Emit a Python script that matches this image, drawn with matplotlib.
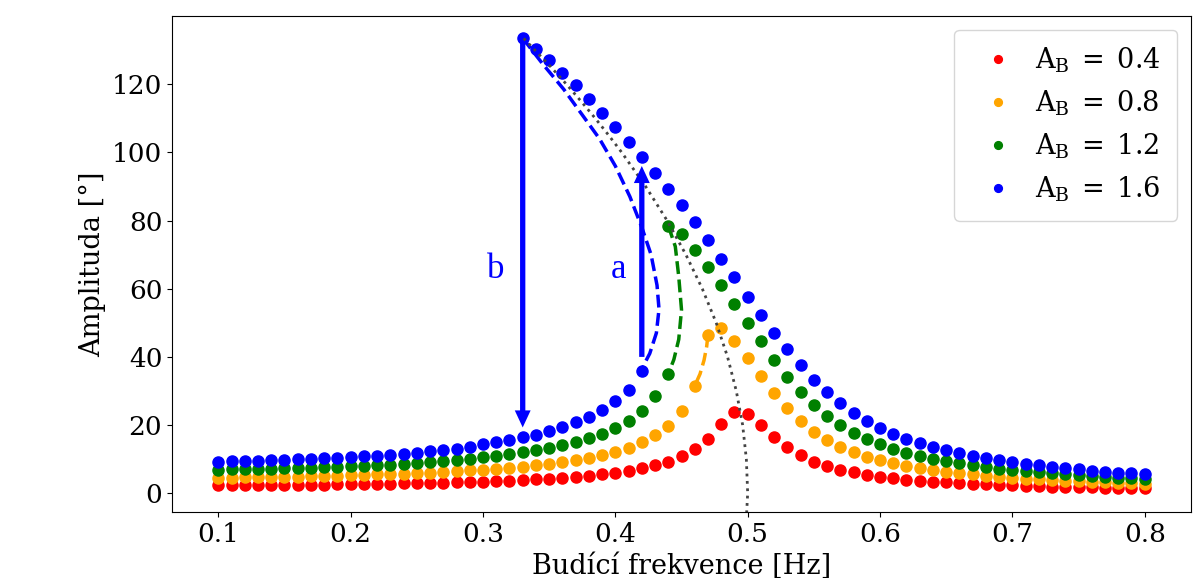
import matplotlib
matplotlib.use("Agg")
import matplotlib.pyplot as plt

plt.rcParams['font.family'] = 'DejaVu Serif'
plt.rcParams['mathtext.fontset'] = 'dejavuserif'

# budici frekvence [Hz], krok 0.01
freq = [0.10, 0.11, 0.12, 0.13, 0.14, 0.15, 0.16, 0.17, 0.18, 0.19,
        0.20, 0.21, 0.22, 0.23, 0.24, 0.25, 0.26, 0.27, 0.28, 0.29,
        0.30, 0.31, 0.32, 0.33, 0.34, 0.35, 0.36, 0.37, 0.38, 0.39,
        0.40, 0.41, 0.42, 0.43, 0.44, 0.45, 0.46, 0.47, 0.48, 0.49,
        0.50, 0.51, 0.52, 0.53, 0.54, 0.55, 0.56, 0.57, 0.58, 0.59,
        0.60, 0.61, 0.62, 0.63, 0.64, 0.65, 0.66, 0.67, 0.68, 0.69,
        0.70, 0.71, 0.72, 0.73, 0.74, 0.75, 0.76, 0.77, 0.78, 0.79, 0.80]

# A_B = 0.4
amp_red = [2.3, 2.3, 2.3, 2.4, 2.4, 2.4, 2.5, 2.5, 2.5, 2.6,
           2.6, 2.7, 2.7, 2.8, 2.9, 2.9, 3.0, 3.1, 3.2, 3.3,
           3.4, 3.6, 3.7, 3.9, 4.1, 4.3, 4.6, 4.8, 5.2, 5.6,
           6.0, 6.6, 7.3, 8.2, 9.3, 10.8, 13.0, 16.0, 20.2, 23.8,
           23.2, 20.1, 16.5, 13.5, 11.1, 9.3, 8.0, 6.9, 6.1, 5.4,
           4.9, 4.4, 4.0, 3.7, 3.4, 3.2, 2.9, 2.7, 2.6, 2.4,
           2.3, 2.2, 2.0, 1.9, 1.8, 1.8, 1.7, 1.6, 1.5, 1.5, 1.4]

# A_B = 0.8
amp_orange = [4.6, 4.6, 4.7, 4.7, 4.8, 4.9, 4.9, 5.0, 5.1, 5.2,
              5.3, 5.4, 5.5, 5.6, 5.7, 5.9, 6.0, 6.2, 6.4, 6.7,
              6.9, 7.2, 7.5, 7.8, 8.2, 8.6, 9.1, 9.7, 10.4, 11.2,
              12.2, 13.4, 15.0, 17.0, 19.8, 24.2, 31.5, 46.5, 48.5, 44.6,
              39.6, 34.5, 29.5, 24.9, 21.1, 18.0, 15.6, 13.6, 12.0, 10.7,
              9.7, 8.8, 8.0, 7.4, 6.8, 6.3, 5.9, 5.5, 5.1, 4.8,
              4.6, 4.3, 4.1, 3.9, 3.7, 3.5, 3.4, 3.2, 3.1, 2.9, 2.8]

# A_B = 1.2: dolni vetev 0.10-0.44, horni vetev 0.44-0.80
amp_green_low = [6.9, 7.0, 7.0, 7.1, 7.2, 7.3, 7.4, 7.5, 7.6, 7.8,
                 7.9, 8.1, 8.2, 8.4, 8.6, 8.9, 9.1, 9.4, 9.7, 10.1,
                 10.5, 10.9, 11.4, 12.0, 12.6, 13.3, 14.1, 15.1, 16.2, 17.5,
                 19.1, 21.2, 24.2, 28.5, 35.0]
amp_green_high = [78.5, 76.0, 71.4, 66.4, 61.1, 55.6,
                  50.0, 44.6, 39.1, 34.2, 29.8, 25.9, 22.6, 19.9, 17.7, 15.9,
                  14.4, 13.1, 11.9, 11.0, 10.1, 9.4, 8.8, 8.2, 7.7, 7.2,
                  6.8, 6.5, 6.1, 5.8, 5.5, 5.3, 5.0, 4.8, 4.6, 4.4, 4.2]

# A_B = 1.6: dolni vetev 0.10-0.42, horni vetev 0.33-0.80
amp_blue_low = [9.3, 9.4, 9.5, 9.6, 9.7, 9.8, 9.9, 10.1, 10.2, 10.4,
                10.6, 10.8, 11.0, 11.3, 11.6, 11.9, 12.3, 12.7, 13.1, 13.7,
                14.3, 14.9, 15.6, 16.5, 17.2, 18.2, 19.4, 20.8, 22.4, 24.4,
                27.0, 30.4, 36.0]
amp_blue_high = [133.5, 130.4, 127.0, 123.4, 119.7, 115.7, 111.5,
                 107.4, 103.0, 98.6, 93.9, 89.2, 84.5, 79.6, 74.2, 68.8, 63.3,
                 57.7, 52.2, 47.1, 42.2, 37.5, 33.3, 29.6, 26.4, 23.6, 21.2,
                 19.2, 17.5, 16.0, 14.7, 13.6, 12.6, 11.8, 11.0, 10.3, 9.7,
                 9.1, 8.6, 8.2, 7.7, 7.3, 7.0, 6.6, 6.3, 6.0, 5.8, 5.6]

# nestabilni vetve (carkovane)
uns_orange_f = [0.470, 0.469, 0.467, 0.464, 0.460]
uns_orange_a = [46.5, 43.0, 39.0, 35.0, 31.5]
uns_green_f = [0.440, 0.4453, 0.4479, 0.450, 0.4479, 0.4442, 0.440]
uns_green_a = [78.5, 72.4, 63.6, 53.8, 45.1, 39.2, 35.0]
uns_blue_f = [0.330, 0.345, 0.361, 0.375, 0.388, 0.400, 0.411, 0.420,
              0.427, 0.4315, 0.433, 0.431, 0.426, 0.422, 0.420]
uns_blue_a = [133.5, 126.0, 118.5, 111.0, 104.0, 96.0, 87.0, 78.0,
              70.0, 61.0, 54.0, 47.0, 41.0, 38.0, 36.0]

# paterni krivka (zavislost vlastni frekvence na amplitude)
bb_amp = [-8, 0, 10, 20, 30, 40, 50, 60, 70, 80, 90, 100, 105, 110, 115, 120, 125, 133.5]
bb_freq = [0.4989, 0.5, 0.4990, 0.4962, 0.4914, 0.4848, 0.4762, 0.4657, 0.4533,
           0.4391, 0.4229, 0.4048, 0.3950, 0.3848, 0.3741, 0.3630, 0.3514, 0.3306]

# skoky amplitudy: (frekvence, odkud, kam)
jump_a = (0.42, 40.0, 96.0)
jump_b = (0.33, 132.5, 19.3)

labels = ['0.4', '0.8', '1.2', '1.6']
colors = ['red', 'orange', 'green', 'blue']

fig = plt.figure(figsize=(11.97, 5.78), dpi=100)
ax = fig.add_axes([0.1437, 0.1142, 0.8513, 0.8581])

ms = 8
lab = [r'$\mathrm{A_B}\;=\;%s$' % s for s in labels]
ax.plot(freq, amp_red, 'o', color=colors[0], ms=ms, label=lab[0])
ax.plot(freq, amp_orange, 'o', color=colors[1], ms=ms, label=lab[1])
ax.plot(freq[:35], amp_green_low, 'o', color=colors[2], ms=ms, label=lab[2])
ax.plot(freq[34:], amp_green_high, 'o', color=colors[2], ms=ms)
ax.plot(freq[:33], amp_blue_low, 'o', color=colors[3], ms=ms, label=lab[3])
ax.plot(freq[23:], amp_blue_high, 'o', color=colors[3], ms=ms)

ax.plot(uns_orange_f, uns_orange_a, '--', color=colors[1], lw=2.5)
ax.plot(uns_green_f, uns_green_a, '--', color=colors[2], lw=2.5)
ax.plot(uns_blue_f, uns_blue_a, '--', color=colors[3], lw=2.5)

ax.plot(bb_freq, bb_amp, ':', color='#444444', lw=2)

for f, y0, y1 in (jump_a, jump_b):
    ax.arrow(f, y0, 0, y1 - y0, width=0.004, head_width=0.012, head_length=5.0,
             length_includes_head=True, color='blue', lw=0, zorder=5)

ax.text(0.3095, 65.5, 'b', color='blue', fontsize=25, family='Liberation Serif',
        ha='center', va='center')
ax.text(0.4026, 65.5, 'a', color='blue', fontsize=25, family='Liberation Serif',
        ha='center', va='center')

ax.set_xlim(0.065, 0.835)
ax.set_ylim(-5.5, 140)
ax.set_xticks([0.1, 0.2, 0.3, 0.4, 0.5, 0.6, 0.7, 0.8])
ax.set_yticks([0, 20, 40, 60, 80, 100, 120])
ax.tick_params(labelsize=19)
ax.set_xlabel('Budící frekvence [Hz]', fontsize=19.5)
ax.set_ylabel('Amplituda [°]', fontsize=19.5)
ax.legend(loc='upper right', fontsize=19.5, markerscale=0.7,
          borderpad=0.6, handletextpad=0.4)

fig.savefig('out.png', dpi=100)
